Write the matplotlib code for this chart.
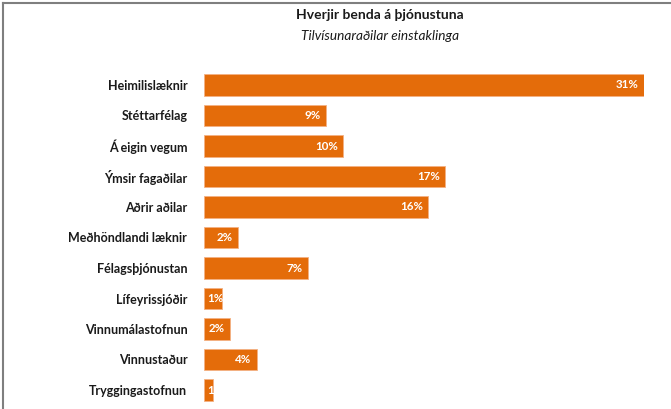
import matplotlib
matplotlib.use("Agg")
import matplotlib.pyplot as plt
from matplotlib.lines import Line2D
from matplotlib.transforms import offset_copy

categories = ["Heimilislæknir", "Stéttarfélag", "Á eigin vegum", "Ýmsir fagaðilar",
              "Aðrir aðilar", "Meðhöndlandi læknir", "Félagsþjónustan", "Lífeyrissjóðir",
              "Vinnumálastofnun", "Vinnustaður", "Tryggingastofnun"]
values = [31.0, 8.6, 9.8, 17.0, 15.8, 2.4, 7.3, 1.3, 1.8, 3.7, 0.6]
value_labels = ["31%", "9%", "10%", "17%", "16%", "2%", "7%", "1%", "2%", "4%", "1%"]

title = "Hverjir benda á þjónustuna"
subtitle = "Tilvísunaraðilar einstaklinga"

bar_color = "#E46C0A"
plt.rcParams['font.family'] = ['Lato', 'DejaVu Sans']

W, H = 671, 409
fig = plt.figure(figsize=(W / 100, H / 100), dpi=100)
fig.patch.set_facecolor("white")

# frame border (top and left visible)
fig.add_artist(Line2D([3 / W, 3 / W], [0, 1 - 2.5 / H], color="#7f7f7f", lw=1.5, transform=fig.transFigure))
fig.add_artist(Line2D([3 / W, 1], [1 - 2.5 / H, 1 - 2.5 / H], color="#7f7f7f", lw=1.5, transform=fig.transFigure))

left = 204 / W
right = 644 / W
top = 1 - 69.75 / H
bottom = 1 - 405.25 / H
ax = fig.add_axes([left, bottom, right - left, top - bottom])

ypos = list(range(len(categories)))
bars = ax.barh(ypos, values, height=0.69, color=bar_color, edgecolor="#F4B183", linewidth=0.6)
ax.set_xlim(0, 31)
ax.set_ylim(len(categories) - 0.5, -0.5)
ax.set_yticks(ypos)
ax.set_yticklabels(categories, fontsize=9, fontweight="bold", color="#1a1a1a")
ax.tick_params(axis="y", length=0, pad=12)
ax.set_xticks([])
for s in ax.spines.values():
    s.set_visible(False)

fig.canvas.draw()
renderer = fig.canvas.get_renderer()
for b, lab in zip(bars, value_labels):
    yc = b.get_y() + b.get_height() / 2
    t = ax.text(b.get_width(), yc, lab, ha="right", va="center", color="white",
                fontsize=8.3, fontweight="bold")
    tw = t.get_window_extent(renderer).width
    x0 = ax.transData.transform((0, 0))[0]
    x1 = ax.transData.transform((b.get_width(), 0))[0]
    if tw + 8 > (x1 - x0):
        t.set_position((0, yc))
        t.set_ha("left")
        t.set_transform(offset_copy(ax.transData, fig=fig, x=3, y=0, units="dots"))
    else:
        t.set_transform(offset_copy(ax.transData, fig=fig, x=-5, y=0, units="dots"))
    t.set_clip_path(b)

fig.text(380 / W, 1 - 15 / H, title, ha="center", va="center", fontsize=10, fontweight="bold", color="#1a1a1a")
fig.text(380 / W, 1 - 36 / H, subtitle, ha="center", va="center", fontsize=9.8, style="italic", color="#1a1a1a")

fig.savefig("out.png", dpi=100, facecolor="white")
